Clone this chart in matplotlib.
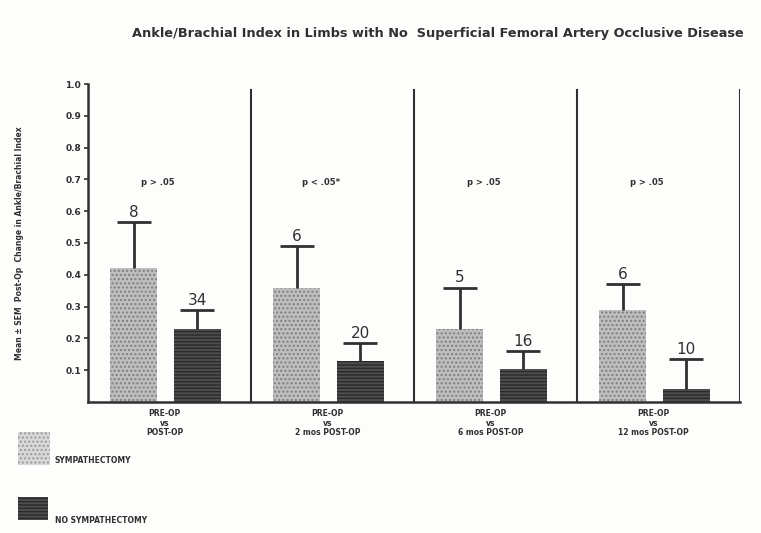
import matplotlib
matplotlib.use("Agg")
import matplotlib.pyplot as plt
from matplotlib.patches import Rectangle

# values
groups = ["PRE-OP\nvs\nPOST-OP", "PRE-OP\nvs\n2 mos POST-OP",
          "PRE-OP\nvs\n6 mos POST-OP", "PRE-OP\nvs\n12 mos POST-OP"]
p_labels = ["p > .05", "p < .05*", "p > .05", "p > .05"]
symp_mean = [0.42, 0.36, 0.23, 0.29]
symp_sem = [0.145, 0.13, 0.13, 0.08]
symp_n = [8, 6, 5, 6]
nosymp_mean = [0.23, 0.13, 0.105, 0.04]
nosymp_sem = [0.058, 0.055, 0.055, 0.095]
nosymp_n = [34, 20, 16, 10]
yticks = [0.1, 0.2, 0.3, 0.4, 0.5, 0.6, 0.7, 0.8, 0.9, 1.0]

ink = "#303030"
bg = "#fdfdfb"

fig = plt.figure(figsize=(7.61, 5.33), dpi=100, facecolor=bg)
ax = fig.add_axes([0.1156, 0.2458, 0.8568, 0.5966])
ax.set_facecolor(bg)

width = 0.29
xs_s = [i + 0.28 for i in range(len(groups))]
xs_n = [i + 0.67 for i in range(len(groups))]

ax.bar(xs_s, symp_mean, width, color="#bebebe", edgecolor="#7e7e7e",
       hatch="....", linewidth=0)
ax.bar(xs_n, nosymp_mean, width, color="#4e4e4e", edgecolor="#2a2a2a",
       hatch="-----", linewidth=0)

# upper-only error bars: stem plus one cap at the top
for xs, means, sems, ns in [(xs_s, symp_mean, symp_sem, symp_n),
                            (xs_n, nosymp_mean, nosymp_sem, nosymp_n)]:
    tops = [m + s for m, s in zip(means, sems)]
    ax.vlines(xs, means, tops, color=ink, lw=2)
    ax.plot(xs, tops, ls="none", marker="_", ms=25, mew=2, color=ink)
    for x, t, n in zip(xs, tops, ns):
        ax.text(x, t + 0.008, str(n), ha="center", va="bottom",
                fontsize=11, color=ink)

for i in range(len(groups)):
    ax.text(i + 0.43, 0.69, p_labels[i], ha="center", va="center",
            fontsize=6, fontweight="bold", color=ink)
    ax.axvline(i + 1, ymin=0, ymax=0.98, color=ink, lw=1.5)

ax.set_xlim(0, 4)
ax.set_ylim(0, 1.0)
ax.set_yticks(yticks)
ax.set_yticklabels([f"{t:.1f}" for t in yticks], fontsize=6.5,
                   fontweight="bold", color=ink)
ax.set_xticks([i + 0.47 for i in range(len(groups))])
ax.set_xticklabels(groups, fontsize=5.5, fontweight="bold", color=ink,
                   linespacing=1.1)
ax.tick_params(axis="x", length=0, pad=5)
ax.tick_params(axis="y", length=3, width=1.2, color=ink, pad=2)
for s in ["top", "right"]:
    ax.spines[s].set_visible(False)
for s in ["left", "bottom"]:
    ax.spines[s].set_color(ink)
    ax.spines[s].set_linewidth(1.8)

fig.text(0.576, 0.938,
         "Ankle/Brachial Index in Limbs with No  Superficial Femoral Artery Occlusive Disease",
         ha="center", va="center", fontsize=9.3, fontweight="bold", color=ink)
fig.text(0.026, 0.544, "Mean \u00b1 SEM  Post-Op  Change in Ankle/Brachial Index",
         rotation=90, ha="center", va="center", fontsize=5.5,
         fontweight="bold", color=ink)

# legend drawn by hand under the axes
fig.patches.append(Rectangle((0.024, 0.128), 0.042, 0.062, transform=fig.transFigure,
                             facecolor="#d8d8d8", edgecolor="#9a9a9a",
                             hatch="....", linewidth=0))
fig.text(0.072, 0.128, "SYMPATHECTOMY", fontsize=5.5, fontweight="bold",
         color=ink, va="bottom")
fig.patches.append(Rectangle((0.024, 0.024), 0.039, 0.044, transform=fig.transFigure,
                             facecolor="#4e4e4e", edgecolor="#2a2a2a",
                             hatch="-----", linewidth=0))
fig.text(0.072, 0.015, "NO SYMPATHECTOMY", fontsize=5.5, fontweight="bold",
         color=ink, va="bottom")

fig.savefig("out.png", dpi=100, facecolor=bg)
